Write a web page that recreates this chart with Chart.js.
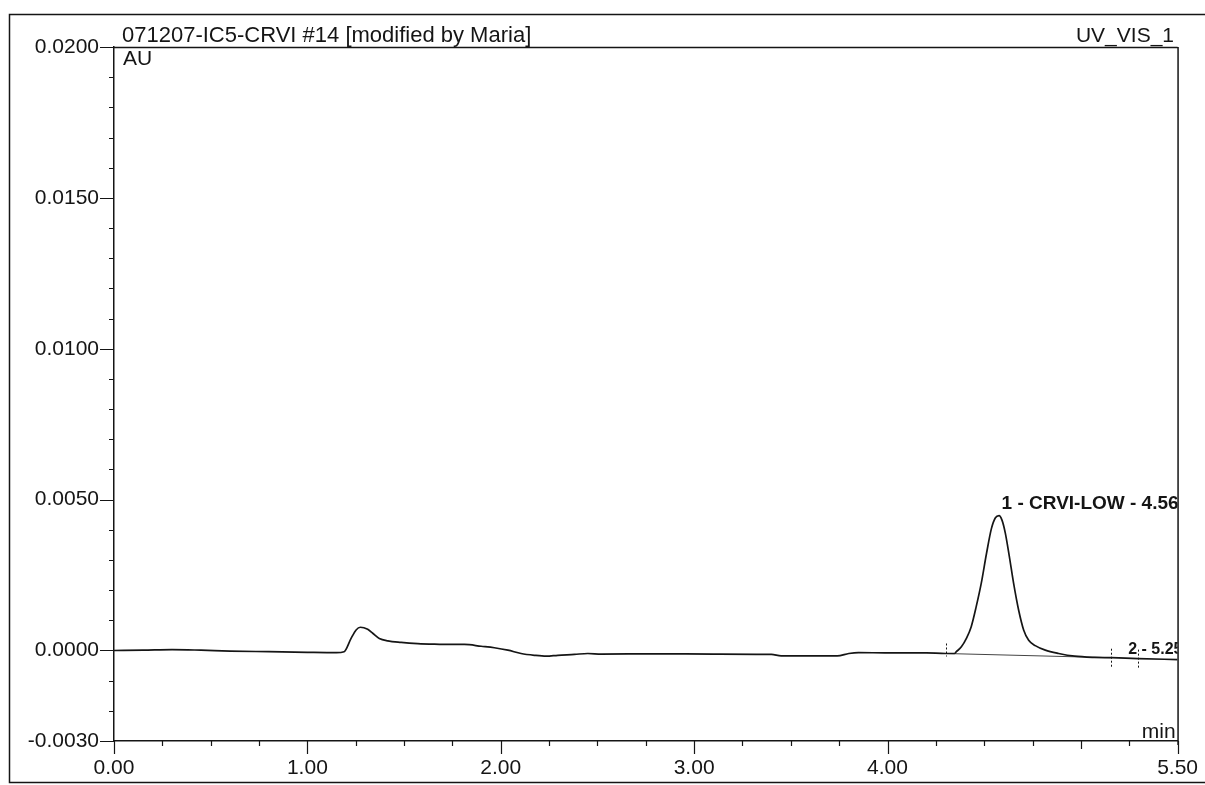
<!DOCTYPE html>
<html>
<head>
<meta charset="utf-8">
<script src="https://cdn.jsdelivr.net/npm/chart.js@4.4.1/dist/chart.umd.min.js"></script>
<style>
  html, body { margin: 0; padding: 0; background: #fff; }
  #wrap { position: absolute; left: 0; top: 0; width: 1205px; height: 785px; }
  canvas { display: block; }
</style>
</head>
<body>
<div id="wrap"><canvas id="c" width="1205" height="785"></canvas></div>
<script>
// ---- Data (time in min, signal in AU) ----
const times = [
  0.00, 0.15, 0.30, 0.45, 0.60, 0.80, 1.00, 1.15, 1.19,
  1.226, 1.252, 1.274, 1.312, 1.338, 1.372, 1.416, 1.485, 1.571, 1.657,
  1.743, 1.812, 1.899, 1.967, 2.037, 2.105, 2.174, 2.235, 2.295, 2.381,
  2.45, 2.52, 2.80, 3.10, 3.40, 3.45, 3.60, 3.74, 3.80, 3.85, 4.00,
  4.20, 4.30, 4.346, 4.356, 4.382, 4.408, 4.433, 4.459, 4.485, 4.511,
  4.537, 4.558, 4.577, 4.592, 4.609, 4.630, 4.652, 4.678, 4.704, 4.730,
  4.764, 4.816, 4.885, 4.968, 5.071, 5.158, 5.296, 5.50
];
const signalAU = [
  0.00000, 0.00001, 0.00003, 0.00001, -0.00002, -0.00004, -0.00006, -0.00007, -0.00004,
  0.00040, 0.00068, 0.00077, 0.00070, 0.00057, 0.00040, 0.00032, 0.00027, 0.00023, 0.00021,
  0.00020, 0.00020, 0.00014, 0.00009, 0.00001, -0.00010, -0.00016, -0.00019, -0.00016, -0.00013,
  -0.00010, -0.00012, -0.00011, -0.00012, -0.00013, -0.00018, -0.00018, -0.00018, -0.00010, -0.00007, -0.00008,
  -0.00008, -0.00010, -0.00010, -0.00004, 0.00012, 0.00040, 0.00079, 0.00146, 0.00223, 0.00318,
  0.00403, 0.00440, 0.00447, 0.00432, 0.00390, 0.00312, 0.00223, 0.00134, 0.00068, 0.00034,
  0.00016, 0.00001, -0.00010, -0.00019, -0.00023, -0.00024, -0.00027, -0.00030
];
// integration baseline under peak 1
const baselineTimes = [4.30, 5.158];
const baselineAU = [-0.00010, -0.00024];
// peak delimiter marks
const delimTimes = [4.30, 5.158, 5.296];
const delimAU = [-0.00010, -0.00024, -0.00027];
// peak labels
const peakLabels = ["1 - CRVI-LOW - 4.56", "2 - 5.25"];
const peakLabelTimes = [4.59, 5.245];
const peakLabelAU = [0.00447, -0.00013];

// axis ticks
const xMajorTicks = [0, 1, 2, 3, 4, 5.5];
const yMajorTicks = [0.02, 0.015, 0.01, 0.005, 0, -0.003];
const xMinorStep = 0.25;
const yMinorStep = 0.001;

const titleText = "071207-IC5-CRVI #14 [modified by Maria]";
const channelText = "UV_VIS_1";
const yUnit = "AU";
const xUnit = "min";

const FONT = "'Liberation Sans', Arial, sans-serif";
const INK = "#151515";

const decor = {
  id: 'decor',
  afterDatasetsDraw(chart) {
    const ctx = chart.ctx;
    const xs = chart.scales.x, ys = chart.scales.y;
    const a = chart.chartArea;
    ctx.save();
    ctx.strokeStyle = INK;
    ctx.fillStyle = INK;
    // outer frame
    ctx.lineWidth = 1.5;
    ctx.strokeRect(9.5, 14.5, 1210, 768);
    // plot box top & right
    ctx.beginPath();
    ctx.moveTo(a.left, a.top + 0.5); ctx.lineTo(a.right, a.top + 0.5);
    ctx.moveTo(a.right + 0.5, a.top); ctx.lineTo(a.right + 0.5, a.bottom + 4);
    ctx.stroke();
    // y ticks
    ctx.lineWidth = 1.2;
    ctx.beginPath();
    for (let v = -0.003; v <= 0.02 + 1e-9; v += yMinorStep) {
      const vv = Math.round(v * 10000) / 10000;
      const isMajor = yMajorTicks.some(m => Math.abs(m - vv) < 1e-9);
      const y = Math.round(ys.getPixelForValue(vv)) + 0.5;
      ctx.moveTo(a.left, y); ctx.lineTo(a.left - (isMajor ? 14 : 5), y);
    }
    // x ticks
    for (let t = 0; t <= 5.5 + 1e-9; t += xMinorStep) {
      const tt = Math.round(t * 100) / 100;
      const isMajor = xMajorTicks.some(m => Math.abs(m - tt) < 1e-9);
      const x = Math.round(xs.getPixelForValue(tt)) + 0.5;
      const len = isMajor ? 13 : (Math.abs(tt - Math.round(tt)) < 1e-9 ? 8 : 5);
      ctx.moveTo(x, a.bottom); ctx.lineTo(x, a.bottom + len);
    }
    ctx.stroke();
    // delimiters
    ctx.lineWidth = 1;
    ctx.setLineDash([2, 2]);
    ctx.beginPath();
    delimTimes.forEach((t, i) => {
      const x = Math.round(xs.getPixelForValue(t)) + 0.5;
      const y = ys.getPixelForValue(delimAU[i]);
      const up = i === 0 ? 10 : 9, dn = i === 0 ? 3 : 11;
      ctx.moveTo(x, y - up); ctx.lineTo(x, y + dn);
    });
    ctx.stroke();
    ctx.setLineDash([]);
    // texts
    ctx.textBaseline = 'alphabetic';
    ctx.font = "22px " + FONT;
    ctx.textAlign = 'left';
    ctx.fillText(titleText, 122, 42);
    ctx.font = "21px " + FONT;
    ctx.fillText(yUnit, a.left + 9, 65);
    ctx.textAlign = 'right';
    ctx.fillText(channelText, 1174, 42);
    ctx.fillText(xUnit, a.right - 2, a.bottom - 3);
    // peak labels clipped to plot area
    ctx.save();
    ctx.beginPath();
    ctx.rect(a.left, a.top, a.right - a.left, a.bottom - a.top);
    ctx.clip();
    ctx.textAlign = 'left';
    peakLabels.forEach((s, i) => {
      ctx.font = (i === 0 ? "bold 19px " : "bold 16px ") + FONT;
      const x = xs.getPixelForValue(peakLabelTimes[i]);
      const y = ys.getPixelForValue(peakLabelAU[i]) - (i === 0 ? 7 : 0);
      ctx.fillText(s, x, y);
    });
    ctx.restore();
    ctx.restore();
  }
};

new Chart(document.getElementById('c'), {
  type: 'line',
  data: {
    datasets: [
      {
        data: times.map((t, i) => ({ x: t, y: signalAU[i] })),
        borderColor: INK,
        borderWidth: 1.7,
        pointRadius: 0,
        fill: false,
        cubicInterpolationMode: 'monotone'
      },
      {
        data: baselineTimes.map((t, i) => ({ x: t, y: baselineAU[i] })),
        borderColor: '#444',
        borderWidth: 1,
        pointRadius: 0,
        fill: false
      }
    ]
  },
  options: {
    responsive: false,
    animation: false,
    devicePixelRatio: 1,
    layout: { padding: { top: 47, right: 26, left: 0, bottom: 0 } },
    plugins: { legend: { display: false }, tooltip: { enabled: false }, title: { display: false } },
    scales: {
      x: {
        type: 'linear',
        min: 0, max: 5.5,
        afterBuildTicks: s => { s.ticks = xMajorTicks.map(v => ({ value: v })); },
        afterFit: s => { s.height = 44; },
        grid: { display: false },
        border: { display: true, color: INK, width: 1.5 },
        ticks: {
          autoSkip: false, maxRotation: 0, padding: 7,
          color: INK, font: { family: FONT, size: 21 },
          callback: v => Number(v).toFixed(2)
        }
      },
      y: {
        type: 'linear',
        min: -0.003, max: 0.02,
        afterBuildTicks: s => { s.ticks = yMajorTicks.map(v => ({ value: v })); },
        afterFit: s => { s.width = 114; },
        grid: { display: false },
        border: { display: true, color: INK, width: 1.5 },
        ticks: {
          autoSkip: false, padding: 7,
          color: INK, font: { family: FONT, size: 21 },
          callback: v => Number(v).toFixed(4)
        }
      }
    }
  },
  plugins: [decor]
});
</script>
</body>
</html>
